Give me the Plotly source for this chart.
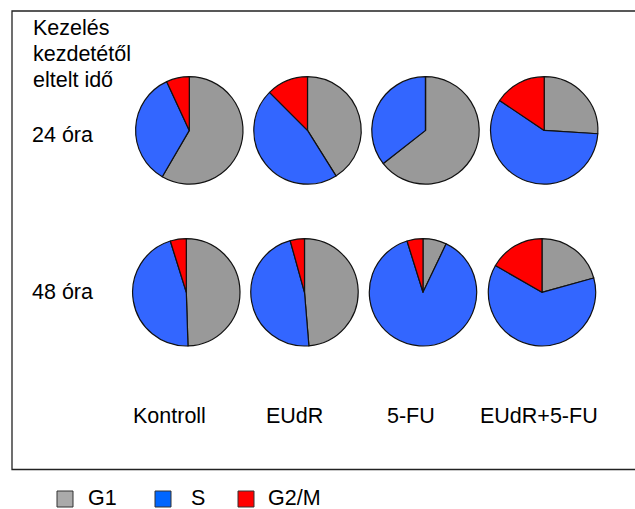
import plotly.graph_objects as go

W, H = 635, 509

treatments = ["Kontroll", "EUdR", "5-FU", "EUdR+5-FU"]
phases = ["G1", "S", "G2/M"]
time_labels = ["24 óra", "48 óra"]
header_lines = ["Kezelés", "kezdetétől", "eltelt idő"]

g1_24 = [58.4, 41.1, 64.4, 26.0]
s_24 = [34.7, 46.4, 35.6, 58.4]
g2m_24 = [6.9, 12.5, 0.0, 15.6]

g1_48 = [49.5, 48.7, 7.1, 20.7]
s_48 = [45.7, 47.0, 88.1, 62.6]
g2m_48 = [4.8, 4.3, 4.8, 16.7]

pie_colors = ["#999999", "#3366ff", "#ff0000"]
legend_colors = ["#aaaaaa", "#0066ff", "#ff0000"]

FONT = "Liberation Sans, Arial, sans-serif"
FS = 21.5

def px(x):
    return x / W

def py(y):
    return 1 - y / H

# pie centres (pixels) and radius
row_cx = [[189.3, 307.5, 425.5, 544.2], [186.3, 304.5, 423.0, 542.0]]
row_cy = [130.4, 292.3]
R = 53.7

rows = [(g1_24, s_24, g2m_24), (g1_48, s_48, g2m_48)]

fig = go.Figure()
for ri, (g1, s, g2m) in enumerate(rows):
    for ci in range(len(treatments)):
        cx, cy = row_cx[ri][ci], row_cy[ri]
        fig.add_trace(go.Pie(
            labels=phases,
            values=[g1[ci], s[ci], g2m[ci]],
            sort=False,
            direction="clockwise",
            rotation=0,
            textinfo="none",
            marker=dict(colors=pie_colors, line=dict(color="#111111", width=1.2)),
            domain=dict(x=[px(cx - R), px(cx + R)], y=[py(cy + R), py(cy - R)]),
            showlegend=False,
            name=f"{treatments[ci]} {time_labels[ri]}",
        ))

annotations = []
def txt(text, x, y, xanchor="left", yanchor="middle", size=FS):
    annotations.append(dict(text=text, x=px(x), y=py(y), xref="paper", yref="paper",
                            xanchor=xanchor, yanchor=yanchor, showarrow=False, align="left",
                            font=dict(family=FONT, size=size, color="black")))

for line, y in zip(header_lines, [27.8, 53.8, 80.5]):
    txt(line, 30.5, y)
txt(time_labels[0], 30, 134.8)
txt(time_labels[1], 30, 291.5)

label_cx = [169, 294, 411, 539]
for name, x in zip(treatments, label_cx):
    txt(name, x, 416, xanchor="center")

shapes = [dict(type="rect", xref="paper", yref="paper",
               x0=px(12), x1=px(640), y0=py(469.5), y1=py(11),
               line=dict(color="#222222", width=1.3), fillcolor="rgba(0,0,0,0)")]

leg_x = [57, 155, 238]
leg_tx = [86, 189, 266]
for name, color, x, tx in zip(phases, legend_colors, leg_x, leg_tx):
    shapes.append(dict(type="rect", xref="paper", yref="paper",
                       x0=px(x), x1=px(x + 16), y0=py(507), y1=py(491),
                       line=dict(color="#333333", width=1), fillcolor=color))
    txt(name, tx, 497.5)

fig.update_layout(
    width=W, height=H,
    margin=dict(l=0, r=0, t=0, b=0),
    paper_bgcolor="white",
    plot_bgcolor="white",
    annotations=annotations,
    shapes=shapes,
    showlegend=False,
)

fig.write_html("out.html", config={"displayModeBar": False},
               post_script="document.body.style.margin='0';")
